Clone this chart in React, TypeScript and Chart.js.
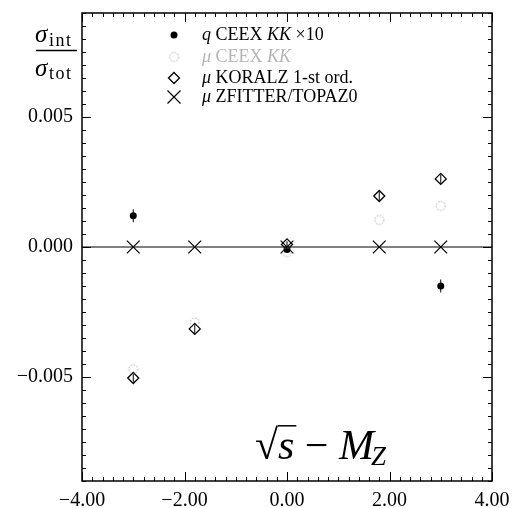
import React, { useEffect, useRef } from 'react';
import { Chart, registerables } from 'chart.js';

Chart.register(...registerables);

// ---------------- data ----------------
const energies = [-3, -1.8, 0, 1.8, 3];
const qEnergies = [-3, 0, 3];
const qCeex = [0.0012, -0.0001, -0.0015];
const qCeexErr = [0.00025, 0.0001, 0.00025];
const muCeex = [-0.0047, -0.0029, -0.0002, 0.00104, 0.00158];
const muKoralz = [-0.00504, -0.00315, 0.0001, 0.00196, 0.00262];
const muKoralzErr = [0.00018, 0.00018, 0.00012, 0.00018, 0.00018];
const zfitter = [0, 0, 0, 0, 0];
const xTicks = [-4, -2, 0, 2, 4];
const yTicks = [-0.005, 0, 0.005];
const xRange = [-4, 4];
const yRange = [-0.009, 0.009];

const SERIF = '"Liberation Serif", "DejaVu Serif", serif';
const fmt = (v: number, d: number) => (v < -1e-12 ? '\u2212' : '') + Math.abs(v).toFixed(d);

type Run = { t: string; it?: boolean };
const legendRows: { runs: Run[]; color: string; kind: string }[] = [
  { runs: [{ t: 'q', it: true }, { t: ' CEEX ' }, { t: 'KK', it: true }, { t: ' \u00d710' }], color: '#000', kind: 'dot' },
  { runs: [{ t: '\u03bc', it: true }, { t: ' CEEX ' }, { t: 'KK', it: true }], color: '#b5b5b5', kind: 'circle' },
  { runs: [{ t: '\u03bc', it: true }, { t: ' KORALZ 1-st ord.' }], color: '#000', kind: 'diamond' },
  { runs: [{ t: '\u03bc', it: true }, { t: ' ZFITTER/TOPAZ0' }], color: '#000', kind: 'cross' },
];

function makeDottedCircle(r: number) {
  const c = document.createElement('canvas');
  const s = Math.ceil(r * 2 + 4);
  c.width = s;
  c.height = s;
  const g = c.getContext('2d')!;
  g.strokeStyle = '#a0a0a0';
  g.lineWidth = 1;
  g.setLineDash([1.5, 1.5]);
  g.beginPath();
  g.arc(s / 2, s / 2, r, 0, Math.PI * 2);
  g.stroke();
  return c;
}

export default function App() {
  const ref = useRef<HTMLCanvasElement>(null);

  useEffect(() => {
    const circleImg = makeDottedCircle(4.5);

    const decor = {
      id: 'decor',
      beforeDatasetsDraw(chart: any) {
        const { ctx, chartArea: a, scales } = chart;
        const x = scales.x;
        const y = scales.y;
        ctx.save();
        const y0 = y.getPixelForValue(0);
        ctx.strokeStyle = '#555';
        ctx.lineWidth = 1.5;
        ctx.beginPath();
        ctx.moveTo(a.left, y0);
        ctx.lineTo(a.right, y0);
        ctx.stroke();
        ctx.strokeStyle = '#000';
        ctx.lineWidth = 1;
        qEnergies.forEach((e, i) => {
          const px = x.getPixelForValue(e);
          ctx.beginPath();
          ctx.moveTo(px, y.getPixelForValue(qCeex[i] - qCeexErr[i]));
          ctx.lineTo(px, y.getPixelForValue(qCeex[i] + qCeexErr[i]));
          ctx.stroke();
        });
        energies.forEach((e, i) => {
          const px = x.getPixelForValue(e);
          ctx.beginPath();
          ctx.moveTo(px, y.getPixelForValue(muKoralz[i] - muKoralzErr[i]));
          ctx.lineTo(px, y.getPixelForValue(muKoralz[i] + muKoralzErr[i]));
          ctx.stroke();
        });
        ctx.restore();
      },
      afterDraw(chart: any) {
        const { ctx, chartArea: a, scales } = chart;
        const x = scales.x;
        const y = scales.y;
        ctx.save();
        // frame
        ctx.strokeStyle = '#000';
        ctx.lineWidth = 1.5;
        ctx.strokeRect(a.left, a.top, a.right - a.left, a.bottom - a.top);
        // ticks
        ctx.lineWidth = 1;
        ctx.beginPath();
        for (let k = -20; k <= 20; k++) {
          const v = k * 0.2;
          const px = Math.round(x.getPixelForValue(v)) + 0.5;
          const len = k % 10 === 0 ? 9 : 4;
          ctx.moveTo(px, a.bottom);
          ctx.lineTo(px, a.bottom - len);
          ctx.moveTo(px, a.top);
          ctx.lineTo(px, a.top + len);
        }
        for (let k = -18; k <= 18; k++) {
          const v = k * 0.0005;
          const py = Math.round(y.getPixelForValue(v)) + 0.5;
          const len = k % 10 === 0 ? 9 : 4;
          ctx.moveTo(a.left, py);
          ctx.lineTo(a.left + len, py);
          ctx.moveTo(a.right, py);
          ctx.lineTo(a.right - len, py);
        }
        ctx.stroke();

        // legend
        const rowsY = [35, 57, 78, 97];
        const symX = 174;
        const textX = 202;
        legendRows.forEach((row, i) => {
          const cy = rowsY[i];
          ctx.save();
          if (row.kind === 'dot') {
            ctx.fillStyle = '#000';
            ctx.beginPath();
            ctx.arc(symX, cy, 3.5, 0, Math.PI * 2);
            ctx.fill();
          } else if (row.kind === 'circle') {
            ctx.drawImage(circleImg, symX - circleImg.width / 2, cy - circleImg.height / 2);
          } else if (row.kind === 'diamond') {
            ctx.strokeStyle = '#000';
            ctx.lineWidth = 1.3;
            ctx.beginPath();
            ctx.moveTo(symX - 5.5, cy);
            ctx.lineTo(symX, cy - 5.5);
            ctx.lineTo(symX + 5.5, cy);
            ctx.lineTo(symX, cy + 5.5);
            ctx.closePath();
            ctx.stroke();
          } else {
            ctx.strokeStyle = '#000';
            ctx.lineWidth = 1.2;
            ctx.beginPath();
            ctx.moveTo(symX - 6.5, cy - 6.5);
            ctx.lineTo(symX + 6.5, cy + 6.5);
            ctx.moveTo(symX + 6.5, cy - 6.5);
            ctx.lineTo(symX - 6.5, cy + 6.5);
            ctx.stroke();
          }
          ctx.restore();
          let tx = textX;
          ctx.fillStyle = row.color;
          ctx.textBaseline = 'middle';
          ctx.textAlign = 'left';
          row.runs.forEach((r) => {
            ctx.font = `${r.it ? 'italic ' : ''}18px ${SERIF}`;
            ctx.fillText(r.t, tx, cy);
            tx += ctx.measureText(r.t).width;
          });
        });

        // y title (fraction)
        ctx.fillStyle = '#000';
        ctx.textAlign = 'left';
        ctx.textBaseline = 'alphabetic';
        ctx.font = `italic 25px ${SERIF}`;
        ctx.fillText('\u03c3', 35, 42);
        ctx.fillText('\u03c3', 35, 76);
        ctx.font = `18px ${SERIF}`;
        (ctx as any).letterSpacing = '1.5px';
        ctx.fillText('int', 49, 46);
        ctx.fillText('tot', 49, 79);
        (ctx as any).letterSpacing = '0px';
        ctx.lineWidth = 1.3;
        ctx.beginPath();
        ctx.moveTo(36, 50.5);
        ctx.lineTo(77, 50.5);
        ctx.stroke();

        // x title  sqrt(s) - M_Z
        const base = 459;
        const F = 42;
        ctx.font = `${F}px ${SERIF}`;
        const mSq = ctx.measureText('\u221a');
        const wSq = mSq.width;
        ctx.font = `italic ${F}px ${SERIF}`;
        const wS = ctx.measureText('s').width;
        ctx.font = `${F}px ${SERIF}`;
        const wMin = ctx.measureText(' \u2212 ').width;
        ctx.font = `italic ${F}px ${SERIF}`;
        const wM = ctx.measureText('M').width;
        ctx.font = `italic 27px ${SERIF}`;
        const wZ = ctx.measureText('Z').width;
        const total = wSq + wS + wMin + wM + wZ;
        let cx = 322 - total / 2;
        ctx.font = `${F}px ${SERIF}`;
        ctx.fillText('\u221a', cx, base);
        const topSq = base - mSq.actualBoundingBoxAscent;
        ctx.lineWidth = 1.5;
        ctx.beginPath();
        ctx.moveTo(cx + mSq.actualBoundingBoxRight - 1, topSq + 0.8);
        ctx.lineTo(cx + wSq + wS + 2, topSq + 0.8);
        ctx.stroke();
        cx += wSq;
        ctx.font = `italic ${F}px ${SERIF}`;
        ctx.fillText('s', cx, base);
        cx += wS;
        ctx.font = `${F}px ${SERIF}`;
        ctx.fillText(' \u2212 ', cx, base);
        cx += wMin;
        ctx.font = `italic ${F}px ${SERIF}`;
        ctx.fillText('M', cx, base);
        cx += wM;
        ctx.font = `italic 27px ${SERIF}`;
        ctx.fillText('Z', cx - 3, base + 6);
        ctx.restore();
      },
    };

    const chart = new Chart(ref.current!, {
      type: 'scatter',
      data: {
        datasets: [
          {
            label: '\u03bc CEEX KK',
            data: energies.map((e, i) => ({ x: e, y: muCeex[i] })),
            pointStyle: circleImg as any,
            pointRadius: 5,
          },
          {
            label: '\u03bc KORALZ 1-st ord.',
            data: energies.map((e, i) => ({ x: e, y: muKoralz[i] })),
            pointStyle: 'rectRot',
            pointRadius: 5.5,
            borderColor: '#000',
            backgroundColor: 'rgba(0,0,0,0)',
            borderWidth: 1.3,
          },
          {
            label: '\u03bc ZFITTER/TOPAZ0',
            data: energies.map((e, i) => ({ x: e, y: zfitter[i] })),
            pointStyle: 'crossRot',
            pointRadius: 9,
            borderColor: '#000',
            borderWidth: 1.2,
          },
          {
            label: 'q CEEX KK \u00d710',
            data: qEnergies.map((e, i) => ({ x: e, y: qCeex[i] })),
            pointStyle: 'circle',
            pointRadius: 3.5,
            borderColor: '#000',
            backgroundColor: '#000',
            borderWidth: 0,
          },
        ],
      },
      options: {
        animation: false,
        responsive: false,
        events: [],
        layout: { padding: { top: 13, right: 26, left: 0, bottom: 0 } },
        plugins: { legend: { display: false }, tooltip: { enabled: false } },
        scales: {
          x: {
            type: 'linear',
            min: xRange[0],
            max: xRange[1],
            grid: { display: false },
            border: { display: false },
            afterBuildTicks: (s: any) => {
              s.ticks = xTicks.map((v) => ({ value: v }));
            },
            afterFit: (s: any) => {
              s.height = 27;
            },
            ticks: {
              color: '#000',
              font: { family: SERIF, size: 20 },
              padding: 0,
              maxRotation: 0,
              autoSkip: false,
              callback: (v: any) => fmt(Number(v), 2),
            },
          },
          y: {
            type: 'linear',
            min: yRange[0],
            max: yRange[1],
            grid: { display: false },
            border: { display: false },
            afterBuildTicks: (s: any) => {
              s.ticks = yTicks.map((v) => ({ value: v }));
            },
            afterFit: (s: any) => {
              s.width = 82;
            },
            ticks: {
              color: '#000',
              font: { family: SERIF, size: 20 },
              padding: 1,
              autoSkip: false,
              callback: (v: any) => fmt(Number(v), 3),
            },
          },
        },
      },
      plugins: [decor],
    });
    return () => chart.destroy();
  }, []);

  return (
    <div style={{ position: 'fixed', left: 0, top: 0, width: 518, height: 508, background: '#fff' }}>
      <canvas ref={ref} width={518} height={508} style={{ display: 'block', width: 518, height: 508 }} />
    </div>
  );
}
